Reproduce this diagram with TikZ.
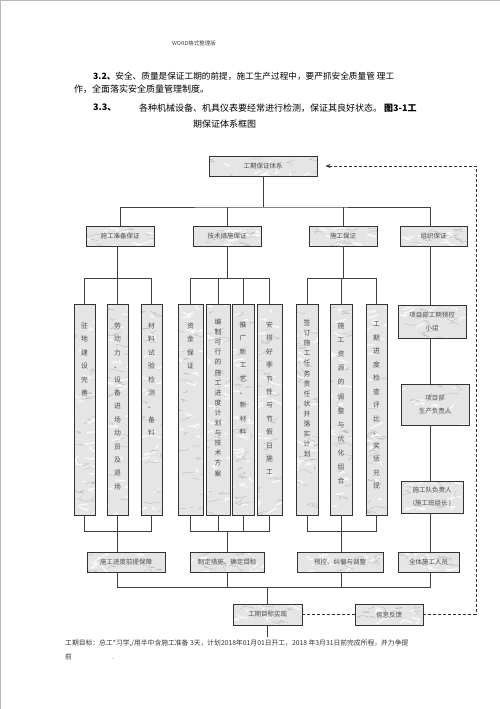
\documentclass[tikz,border=0pt]{standalone}
\usepackage{fontspec}
\setmainfont{Noto Sans CJK SC}
\usetikzlibrary{arrows.meta,calc}
\begin{document}
\pgfmathsetseed{11}
\begin{tikzpicture}[x=1pt,y=-1pt,
  marble/.style={path picture={
    \path (path picture bounding box.south west) coordinate (msw)
          (path picture bounding box.north east) coordinate (mne);
    \foreach \k in {1,...,#1}{
      \draw[white, line width=1.4pt, opacity=.75, line join=round]
        let \p1=(msw), \p2=(mne), \n1={rnd}, \n2={rnd} in
        ({\x1+\n1*(\x2-\x1)},{\y1+\n2*(\y2-\y1)})
        -- ++({(rnd-.5)*18pt},{(rnd-.5)*7pt})
        -- ++({(rnd-.5)*18pt},{(rnd-.5)*7pt});
      \draw[gray!55, line width=.35pt, line join=round]
        let \p1=(msw), \p2=(mne), \n1={rnd}, \n2={rnd} in
        ({\x1+\n1*(\x2-\x1)},{\y1+\n2*(\y2-\y1)})
        -- ++({(rnd-.5)*16pt},{(rnd-.5)*6pt})
        -- ++({(rnd-.5)*16pt},{(rnd-.5)*6pt})
        -- ++({(rnd-.5)*16pt},{(rnd-.5)*6pt});
    }}},
  box/.style={draw=black!80, line width=0.8pt, fill=gray!20, inner sep=0pt,
    text=black!70, font=\fontsize{6.5}{9}\selectfont, align=center, marble=10},
  tall/.style={box, minimum height=211pt, marble=22},
  vt/.style={inner sep=0pt, anchor=north, align=center, text=black!70,
    font=\fontsize{6.8}{13.4}\selectfont},
  vtc/.style={vt, font=\fontsize{6.8}{10.1}\selectfont},
  conn/.style={draw=black!75, line width=0.7pt},
  fbline/.style={draw=black!80, line width=0.8pt, dash pattern=on 3pt off 2pt},
  para/.style={inner sep=0pt, anchor=west, font=\fontsize{9}{11}\selectfont},
  foot/.style={inner sep=0pt, anchor=west, font=\fontsize{6.8}{8}\selectfont, text=black!80}]
\useasboundingbox (0,0) rectangle (500,709);
\draw[gray!55, line width=1pt] (0.5,709) -- (0.5,0.5) -- (500,0.5);

% header and paragraph
\node[inner sep=0pt, font=\fontsize{5.5}{6}\selectfont, text=black!75] (hdr) at (194,43) {WORD格式整理版};
\node[para, font=\fontsize{8.65}{11}\selectfont] (p1) at (93,76) {\textbf{3.2、}安全、质量是保证工期的前提，施工生产过程中，要严抓安全质量管\hspace{2pt}理工};
\node[para] (p2) at (74,89) {作，全面落实安全质量管理制度。};
\node[para] (p3a) at (93,108) {\textbf{3.3、}};
\node[para] (p3b) at (139,108) {各种机械设备、机具仪表要经常进行检测，保证其良好状态。};
\node[para] (p3c) at (384,108) {\textbf{图3-1工}};
\node[para] (p4) at (193,124) {期保证体系框图};

% top
\node[box, minimum width=108pt, minimum height=20pt] (top) at (263,166) {工期保证体系};

% level 2
\node[box, minimum width=68pt, minimum height=20pt] (L1) at (120,236) {施工准备保证};
\node[box, minimum width=68pt, minimum height=20pt] (L2) at (227,236) {技术措施保证};
\node[box, minimum width=68pt, minimum height=20pt] (L3) at (343,236) {施工保证};
\node[box, minimum width=67pt, minimum height=20pt] (L4) at (433.5,236) {组织保证};

% tall boxes
\foreach \n/\x/\w in {A1/84.5/21, A2/117.5/21, A3/151.5/21,
                       B1/190.5/25, B2/218/24, B3/243/22, B4/269.5/25,
                       C1/307/22, C2/341/22, C3/376.5/21}
  \node[tall, minimum width=\w pt] (\n) at (\x,409.5) {};

\node[vt] (A1t) at ([yshift=-19pt]A1.north) {驻\\地\\建\\设\\完\\善};
\node[vt] (A2t) at ([yshift=-19pt]A2.north) {劳\\动\\力\\、\\设\\备\\进\\场\\动\\员\\及\\退\\场};
\node[vt] (A3t) at ([yshift=-19pt]A3.north) {材\\料\\试\\验\\检\\测\\、\\备\\料};
\node[vt] (B1t) at ([yshift=-19pt]B1.north) {资\\金\\保\\证};
\node[vtc] (B2t) at ([yshift=-15pt]B2.north) {编\\制\\可\\行\\的\\施\\工\\进\\度\\计\\划\\与\\技\\术\\方\\案};
\node[vt] (B3t) at ([yshift=-18pt]B3.north) {推\\广\\新\\工\\艺\\、\\新\\材\\料};
\node[vt] (B4t) at ([yshift=-18pt]B4.north) {安\\排\\好\\季\\节\\性\\与\\节\\假\\日\\施\\工};
\node[vtc] (C1t) at ([yshift=-16pt]C1.north) {签\\订\\施\\工\\任\\务\\责\\任\\状\\并\\落\\实\\计\\划};
\node[vt, font=\fontsize{6.8}{14.1}\selectfont] (C2t) at ([yshift=-19pt]C2.north) {施\\工\\资\\源\\的\\调\\整\\与\\优\\化\\组\\合};
\node[vt, font=\fontsize{6.8}{13.5}\selectfont] (C3t) at ([yshift=-18pt]C3.north) {工\\期\\进\\度\\检\\查\\评\\比\\、\\奖\\惩\\兑\\现};

% organisation column
\node[box, minimum width=68pt, minimum height=33pt, font=\fontsize{6.5}{13}\selectfont] (E1) at (432,321.5) {项目部工期预控\\小组};
\node[box, minimum width=68pt, minimum height=41pt, font=\fontsize{6.5}{13}\selectfont] (E2) at (435,404.5) {项目部\\生产负责人};
\node[box, minimum width=62pt, minimum height=32pt, font=\fontsize{6.5}{13}\selectfont] (E3) at (432,497) {施工队负责人\\(施工班组长 )};

% bottom row
\node[box, minimum width=78pt, minimum height=20pt] (D1) at (126,562) {施工进度前提保障};
\node[box, minimum width=74pt, minimum height=20pt] (D2) at (227,562) {制定措施、确定目标};
\node[box, minimum width=86pt, minimum height=20pt] (D3) at (340,562) {预控、纠偏与调整};
\node[box, minimum width=61pt, minimum height=20pt] (D4) at (428.5,562) {全体施工人员};

\node[box, minimum width=69pt, minimum height=21pt] (G) at (267.5,614.5) {工期目标实现};
\node[box, minimum width=68pt, minimum height=21pt] (FB) at (389,614.5) {信息反馈};

% helper coordinates
\coordinate (b207) at (267,207);
\coordinate (y278) at (0,278);
\coordinate (y531) at (0,531);
\coordinate (b587) at (267,587);
\coordinate (x430) at (430,0);
\coordinate (xd) at (476,0);
\coordinate (gend) at (267.5,637);

% connectors
\draw[conn] (top) -- (top |- b207);
\draw[conn] (L1.north) |- (b207) -| (L4.north -| x430);
\draw[conn] (L2.north) -- (L2 |- b207);
\draw[conn] (L3.north) -- (L3 |- b207);

\draw[conn] (L1.south -| A2) -- (A2 |- y278);
\draw[conn] (A1.north) -- (A1 |- y278) -- (A3 |- y278) -- (A3.north);
\draw[conn] (A2.north) -- (A2 |- y278);
\draw[conn] (L2.south) -- (L2 |- y278);
\draw[conn] (B1.north) -- (B1 |- y278) -- (B4 |- y278) -- (B4.north);
\draw[conn] (B2.north) -- (B2 |- y278);
\draw[conn] (B3.north) -- (B3 |- y278);
\draw[conn] (L3.south) -- (L3 |- y278);
\draw[conn] (C1.north) -- (C1 |- y278) -- (C3 |- y278) -- (C3.north);
\draw[conn] (C2.north) -- (C2 |- y278);

\draw[conn] (A1.south) -- (A1 |- y531) -- (A3 |- y531) -- (A3.south);
\draw[conn] (A2.south) -- (A2 |- D1.north);
\draw[conn] (B1.south) -- (B1 |- y531) -- (B4 |- y531) -- (B4.south);
\draw[conn] (B2.south) -- (B2 |- y531);
\draw[conn] (B3.south) -- (B3 |- y531);
\draw[conn] (D2.north) -- (D2 |- y531);
\draw[conn] (C1.south) -- (C1 |- y531) -- (C3 |- y531) -- (C3.south);
\draw[conn] (C2.south) -- (C2 |- D3.north);

\draw[conn] (L4.south -| x430) -- (E1.north -| x430);
\draw[conn] (E1.south -| x430) -- (E2.north -| x430);
\draw[conn] (E2.south -| x430) -- (E3.north -| x430);
\draw[conn] (E3.south -| x430) -- (D4.north -| x430);

\draw[conn] (A2 |- D1.south) -- (A2 |- b587) -- (b587 -| x430) -- (D4.south -| x430);
\draw[conn] (D2.south) -- (D2 |- b587);
\draw[conn] (C2 |- D3.south) -- (C2 |- b587);
\draw[conn] (b587) -- (G.north -| b587);
\draw[conn] (G.south) -- (gend);

% feedback
\draw[fbline] (G.east) -- (FB.west);
\draw[fbline, -{Stealth[length=5pt,width=4pt]}, shorten >=8pt] (FB.east) -- (FB.east -| xd) -- (xd |- top.east) -- (top.east);

% footer
\node[foot] (f1) at (65,643) {工期目标：总工*习学,/用半中含施工准备 3天，计划2018年01月01日开工，2018 年3月31日前完成所程，并力争提};
\node[foot] (f2) at (65,657) {前\hspace{40pt}.};
\end{tikzpicture}
\end{document}
